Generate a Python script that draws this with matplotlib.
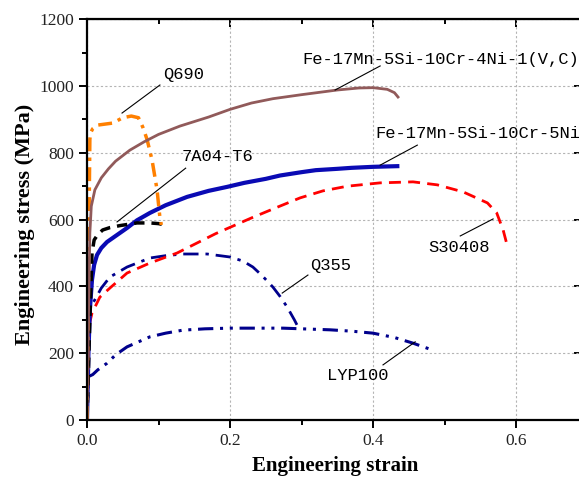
import numpy as np
from matplotlib import pyplot as plt
from matplotlib.ticker import MultipleLocator

# Engineering stress-strain curves (strain, stress in MPa)
fe4ni_strain = [0, 0.002, 0.004, 0.006, 0.011, 0.02, 0.03, 0.04, 0.06, 0.08, 0.10,
                0.13, 0.17, 0.20, 0.23, 0.26, 0.30, 0.35, 0.38, 0.40, 0.42, 0.43, 0.435]
fe4ni_stress = [0, 300, 560, 640, 689, 725, 752, 775, 808, 833, 855,
                880, 907, 930, 949, 962, 974, 988, 994, 995, 990, 980, 967]

fe5ni_strain = [0, 0.002, 0.004, 0.007, 0.010, 0.014, 0.02, 0.028, 0.036, 0.056,
                0.07, 0.088, 0.11, 0.14, 0.17, 0.196, 0.22, 0.25, 0.27, 0.30,
                0.32, 0.35, 0.37, 0.40, 0.434]
fe5ni_stress = [0, 200, 330, 420, 465, 494, 515, 533, 545, 575,
                598, 620, 643, 668, 686, 698, 710, 722, 732, 742,
                748, 752, 755, 758, 760]

s30408_strain = [0, 0.0014, 0.007, 0.018, 0.032, 0.056, 0.088, 0.126, 0.18, 0.23,
                 0.266, 0.298, 0.33, 0.364, 0.41, 0.456, 0.49, 0.526, 0.56, 0.573,
                 0.582, 0.588]
s30408_stress = [0, 269, 320, 368, 395, 440, 470, 500, 558, 605,
                 637, 665, 686, 700, 710, 713, 704, 683, 650, 620,
                 569, 520]

q690_strain = [0, 0.002, 0.004, 0.005, 0.008, 0.015, 0.036, 0.05, 0.062, 0.072,
               0.078, 0.084, 0.091, 0.098, 0.102, 0.104]
q690_stress = [0, 420, 840, 860, 872, 883, 889, 905, 910, 905,
               877, 840, 778, 689, 605, 584]

al_strain = [0, 0.004, 0.007, 0.010, 0.015, 0.022, 0.032, 0.046, 0.07, 0.088, 0.1, 0.109]
al_stress = [0, 300, 500, 539, 555, 569, 576, 582, 590, 590, 588, 584]

q355_strain = [0, 0.002, 0.006, 0.011, 0.02, 0.032, 0.056, 0.088, 0.11, 0.134, 0.168,
               0.2, 0.218, 0.232, 0.245, 0.26, 0.27, 0.28, 0.29, 0.296]
q355_stress = [0, 330, 344, 360, 395, 428, 458, 485, 492, 497, 497,
               488, 476, 458, 432, 398, 370, 338, 300, 275]

lyp_strain = [0, 0.002, 0.008, 0.015, 0.028, 0.04, 0.056, 0.088, 0.11, 0.134, 0.165,
              0.2, 0.274, 0.34, 0.37, 0.40, 0.43, 0.456, 0.485]
lyp_stress = [0, 130, 136, 150, 170, 195, 219, 249, 260, 269, 273,
              275, 275, 270, 266, 260, 247, 230, 208]

plt.rcParams['font.family'] = ['Liberation Serif', 'DejaVu Serif']

fig = plt.figure(figsize=(5.79, 4.79), dpi=100)
ax = fig.add_axes([87/579, 59/479, 0.7*715/579, 400.8/479])

ax.plot(lyp_strain, lyp_stress, color='#00008c', lw=2.2, ls=(0, (5, 2.2, 1, 2.2, 1, 2.2)))
ax.plot(q355_strain, q355_stress, color='#00008c', lw=2.0, ls=(0, (5.5, 2.5, 1.2, 2.5)))
ax.plot(s30408_strain, s30408_stress, color='#ff0000', lw=2.0, ls=(0, (4.3, 2.6)))
ax.plot(fe5ni_strain, fe5ni_stress, color='#0a0ab4', lw=3.0)
ax.plot(al_strain, al_stress, color='black', lw=2.5, ls=(0, (3, 2)))
ax.plot(q690_strain, q690_stress, color='#ff8000', lw=2.5, ls=(0, (4, 1.8, 1, 1.8)))
ax.plot(fe4ni_strain, fe4ni_stress, color='#915a5a', lw=2.0)

# labels with leader lines: (text, text x, text y, line start, line end)
labels = [
    ("Q690", 0.106, 1033, (0.049, 919), (0.102, 1003)),
    ("7A04-T6", 0.132, 790, (0.042, 593), (0.138, 754)),
    ("Fe-17Mn-5Si-10Cr-4Ni-1(V,C)", 0.301, 1078, (0.347, 988), (0.410, 1060)),
    ("Fe-17Mn-5Si-10Cr-5Ni", 0.403, 859, (0.410, 763), (0.462, 823)),
    ("S30408", 0.477, 515, (0.568, 602), (0.522, 551)),
    ("Q355", 0.312, 464, (0.273, 380), (0.309, 434)),
    ("LYP100", 0.336, 132, (0.459, 234), (0.414, 165)),
]
for txt, tx, ty, p0, p1 in labels:
    ax.plot([p0[0], p1[0]], [p0[1], p1[1]], color='black', lw=0.8)
    ax.text(tx, ty, txt, ha='left', va='center', fontsize=12.3,
            family=['Liberation Mono', 'DejaVu Sans Mono'])

ax.set_xlim(0, 0.7)
ax.set_ylim(0, 1200)
ax.xaxis.set_major_locator(MultipleLocator(0.2))
ax.xaxis.set_minor_locator(MultipleLocator(0.1))
ax.yaxis.set_major_locator(MultipleLocator(200))
ax.yaxis.set_minor_locator(MultipleLocator(100))
ax.set_xticks([0, 0.2, 0.4, 0.6])
ax.set_xticklabels(["0.0", "0.2", "0.4", "0.6"])

ax.grid(True, which='major', color='#b4b4b4', ls=(0, (2, 2)), lw=0.8)
ax.set_axisbelow(True)
for s in ax.spines.values():
    s.set_linewidth(1.6)

ax.tick_params(which='both', direction='out', labelsize=12.5, labelcolor='#222222', width=1.4)
ax.tick_params(which='major', length=6)
ax.tick_params(which='minor', length=3.5)
# mirrored ticks on top and right, pointing inward
ax2 = ax.secondary_xaxis('top')
ax2.xaxis.set_major_locator(MultipleLocator(0.2))
ax2.xaxis.set_minor_locator(MultipleLocator(0.1))
ax2.tick_params(which='both', direction='in', labeltop=False, width=1.4)
ax2.tick_params(which='major', length=6)
ax2.tick_params(which='minor', length=3.5)
ax3 = ax.secondary_yaxis('right')
ax3.yaxis.set_major_locator(MultipleLocator(200))
ax3.yaxis.set_minor_locator(MultipleLocator(100))
ax3.tick_params(which='both', direction='in', labelright=False, width=1.4)
ax3.tick_params(which='major', length=10)
ax3.tick_params(which='minor', length=3.5)

ax.set_xlabel("Engineering strain", fontsize=15, fontweight='bold', va='center')
ax.set_ylabel("Engineering stress (MPa)", fontsize=16, fontweight='bold', va='center')
ax.xaxis.set_label_coords(0.496, -0.115)
ax.yaxis.set_label_coords(-0.124, 0.489)

fig.savefig("out.png", dpi=100)
